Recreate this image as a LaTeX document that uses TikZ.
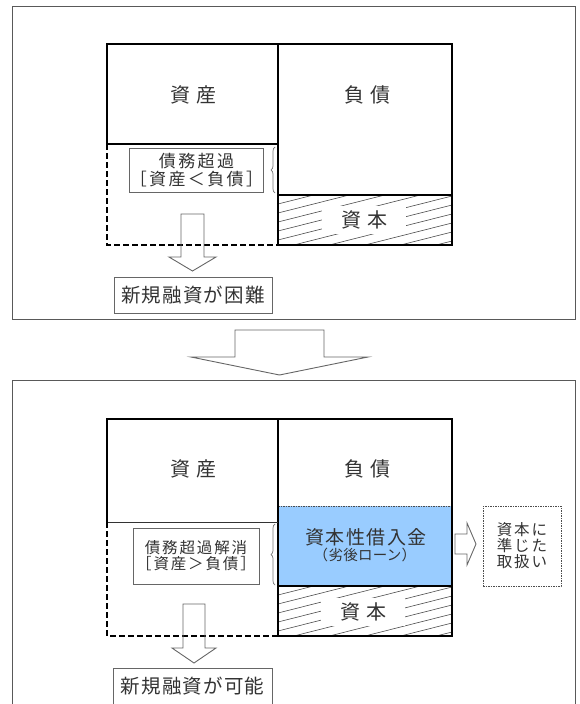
\documentclass[tikz,border=0pt]{standalone}
\usepackage{fontspec}
\newfontfamily\jp{Noto Sans CJK JP}
\usetikzlibrary{decorations.pathreplacing}
\definecolor{loanblue}{RGB}{153,204,255}
\newcommand\jpfs[3]{\jp\fontsize{#1}{#2}\selectfont\addfontfeature{LetterSpace=#3}}
\begin{document}
\begin{tikzpicture}[x=1pt,y=-1pt,
  panel/.style={draw=black!65,line width=1pt},
  heavy/.style={line width=1.8pt,line join=miter},
  heavydash/.style={line width=1.6pt,dash pattern=on 6pt off 3pt},
  txtbox/.style={draw=black!60,line width=0.9pt,inner sep=0pt,align=center,text=black!80},
  blockarrow/.style={draw=black!60,line width=0.9pt,line join=miter},
  hatchline/.style={draw=black!70,line width=0.6pt},
  lbl/.style={text=black!80,inner sep=0pt,font=\jp\fontsize{20}{22}\selectfont},
  bracestyle/.style={draw=black!55,line width=0.7pt,decorate,decoration={brace,amplitude=4pt}},
  dotbox/.style={draw=black!70,line width=0.7pt,dash pattern=on 1.5pt off 1pt},
  gap/.style={fill=white,inner sep=0pt,minimum width=84pt,minimum height=28pt},
]
\useasboundingbox (0,0) rectangle (579,704);

% ===== top panel =====
\draw[panel] (12,6) rectangle (575,319);
\begin{scope}
  \clip (278,195) rectangle (452,245);
  \foreach \i in {0,...,11} \draw[hatchline] (278,195+\i*9) -- (452,151+\i*9);
\end{scope}
\node[gap] (capgapA) at (364,220) {};
\node[lbl] (capA) at (364,220) {資\hspace{6pt}本};
\draw[heavy] (107,144) -- (107,44) -- (452,44) -- (452,245) -- (278,245);
\draw[heavy] (278,44) -- (278,245);
\draw[heavy] (278,195) -- (452,195);
\draw[line width=1.5pt] (107,144) -- (278,144);
\draw[heavydash] (107,144) -- (107,245) -- (278,245);
\node[lbl] (assetA) at (193,95) {資\hspace{6pt}産};
\node[lbl] (liabA) at (367,95) {負\hspace{6pt}債};
\node[txtbox,minimum width=131pt,minimum height=44pt,font=\jpfs{17}{17.5}{14}] (excessA) at (196.5,170) {債務超過\\［資産＜負債］};
\draw[bracestyle] (275,193) -- (275,147);
\draw[blockarrow] (181,214) -- (204,214) -- (204,257) -- (216,257) -- (192.5,271) -- (169,257) -- (181,257) -- cycle;
\node[txtbox,minimum width=158pt,minimum height=36pt,font=\jpfs{19.5}{21}{6}] (newA) at (193,295) {新規融資が困難};

% ===== big arrow =====
\draw[blockarrow] (235,330) -- (324,330) -- (324,357) -- (368,357) -- (279.5,375) -- (191,357) -- (235,357) -- cycle;

% ===== bottom panel =====
\draw[panel] (12,380) rectangle (575,720);
\fill[loanblue] (278,506) rectangle (452,586);
\draw[dotbox] (278,506) -- (452,506);
\begin{scope}
  \clip (278,586) rectangle (452,636);
  \foreach \i in {0,...,11} \draw[hatchline] (278,586+\i*9) -- (452,542+\i*9);
\end{scope}
\node[gap] (capgapB) at (363,612) {};
\node[lbl] (capB) at (363,612) {資\hspace{6pt}本};
\draw[heavy] (107,522) -- (107,419) -- (452,419) -- (452,636) -- (278,636);
\draw[heavy] (278,419) -- (278,636);
\draw[heavy] (278,586) -- (452,586);
\draw[line width=1pt,black!80] (107,522) -- (278,522);
\draw[heavydash] (107,522) -- (107,636) -- (278,636);
\node[lbl] (assetB) at (193,469) {資\hspace{6pt}産};
\node[lbl] (liabB) at (367,469) {負\hspace{6pt}債};
\node[text=black!80,inner sep=0pt,font=\jpfs{19}{20}{8}] (loan1) at (366,537) {資本性借入金};
\node[text=black!80,inner sep=0pt,font=\jpfs{14.5}{15}{2}] (loan2) at (365,555) {（劣後ローン）};
\node[txtbox,minimum width=126pt,minimum height=56pt,font=\jpfs{15.5}{16}{12}] (excessB) at (196,556) {債務超過解消\\［資産＞負債］};
\draw[bracestyle] (275,585) -- (275,524);
\draw[blockarrow] (455,534) -- (467,534) -- (467,523) -- (476,544) -- (467,565) -- (467,554) -- (455,554) -- cycle;
\node[dotbox,minimum width=78pt,minimum height=80pt,inner sep=0pt,align=center,text=black!80,font=\jpfs{15.5}{16}{12}] (treat) at (522,546) {資本に\\準じた\\取扱い};
\draw[blockarrow] (183,604) -- (205,604) -- (205,648) -- (216,648) -- (194,663) -- (172,648) -- (183,648) -- cycle;
\node[txtbox,minimum width=159pt,minimum height=36pt,font=\jpfs{19.5}{21}{6}] (newB) at (192.5,686) {新規融資が可能};
\end{tikzpicture}
\end{document}
